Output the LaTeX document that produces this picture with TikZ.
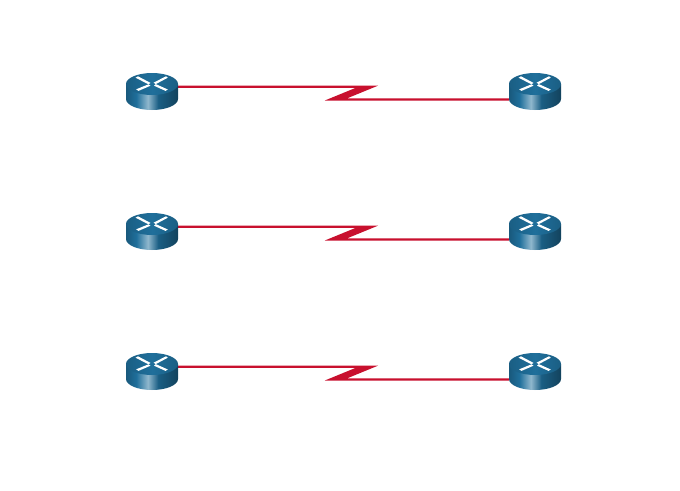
\documentclass[tikz,border=0pt]{standalone}
\usetikzlibrary{positioning}
\definecolor{serialred}{HTML}{C8102E}
\definecolor{routertop}{HTML}{1F6F9B}
\pgfdeclarehorizontalshading{routerside}{100bp}{color(0bp)=(routertop!80!black); color(25bp)=(routertop!80!black); color(35bp)=(routertop); color(46bp)=(routertop!50!white); color(56bp)=(routertop!85!black); color(75bp)=(routertop!60!black); color(100bp)=(routertop!60!black)}
\pgfdeclarehorizontalshading{routercap}{100bp}{color(0bp)=(routertop!85!black); color(25bp)=(routertop!85!black); color(50bp)=(routertop); color(75bp)=(routertop!85!black); color(100bp)=(routertop!85!black)}
\tikzset{
  routerbox/.style={minimum width=52pt, minimum height=37pt, inner sep=0pt},
  serial/.style={fill=serialred},
  pics/router/.style={code={
    % body
    \path[shading=routerside] (-26,-7.5) -- (-26,7.5) arc[start angle=180, end angle=0, x radius=26, y radius=11] -- (26,-7.5) -- cycle;
    % top
    \path[shading=routercap] (0,-7.5) ellipse[x radius=26, y radius=11];
    % arrows
    \fill[white] (-16.5,-13.8) -- (-14,-15.2) -- (-1.5,-8.6) -- (-3.5,-7.2) -- cycle;
    \fill[white] (14,-15.2) -- (15.8,-13.8) -- (3.8,-7.4) -- (1.5,-8.8) -- cycle;
    \fill[white] (-15.8,-2.2) -- (-13.5,-0.6) -- (-1.5,-5.8) -- (-3.5,-7.2) -- cycle;
    \fill[white] (15.8,-2) -- (13.5,-0.6) -- (2,-5.8) -- (3.8,-7.4) -- cycle;
  }}
}
\begin{document}
\begin{tikzpicture}[x=1pt, y=-1pt]
    \useasboundingbox (0,0) rectangle (680,490);
    \foreach \i/\y in {1/91.5, 2/231.5, 3/371.5} {
        % Routers
        \node[routerbox] (L\i) at (152,\y) {};
        \node[routerbox] (R\i) at (535,\y) {};
        % Serial link
        \fill[serial] ([yshift=5.9pt]L\i.east) -- ++(200,0) -- ++(-31,12.7) -- ([yshift=-6.8pt]R\i.west) -- ([yshift=-9pt]R\i.west) -- ++(-184,0) -- ++(31,-12.7) -- ([yshift=3.7pt]L\i.east) -- cycle;
        \pic at (L\i) {router};
        \pic at (R\i) {router};
    }
\end{tikzpicture}
\end{document}
